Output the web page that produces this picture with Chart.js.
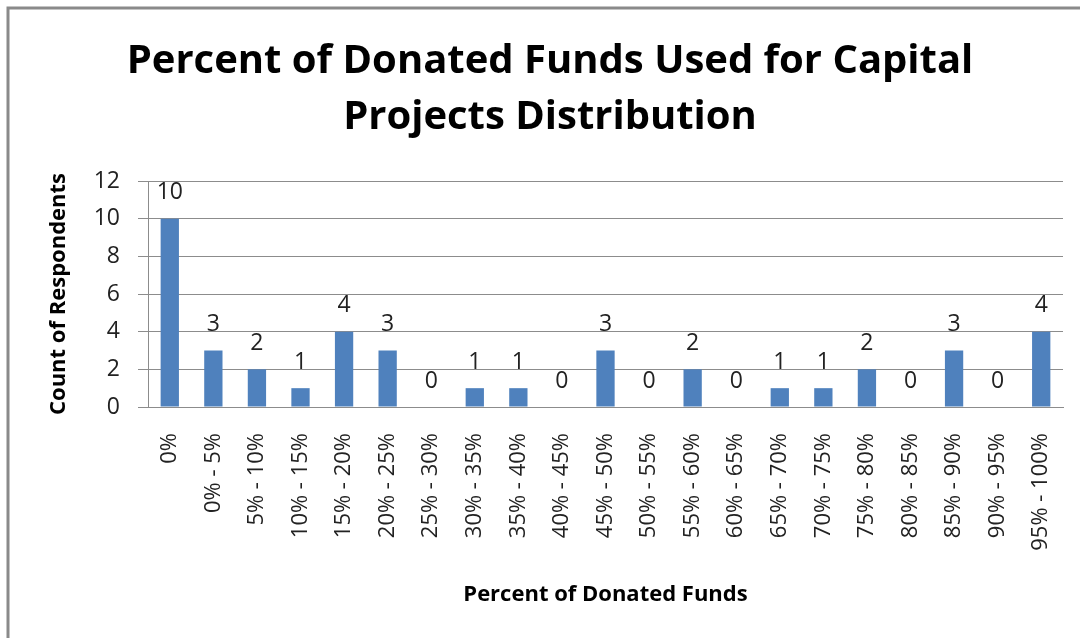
<!DOCTYPE html>
<html>
<head>
<meta charset="utf-8">
<script src="https://cdn.jsdelivr.net/npm/chart.js@4.4.1/dist/chart.umd.min.js"></script>
<style>
  html, body { margin: 0; padding: 0; background: #fff; }
  #wrap { width: 1080px; height: 638px; position: relative; }
</style>
</head>
<body>
<div id="wrap"><canvas id="dist"></canvas></div>
<script>
// percent ranges and respondent counts
const ranges = ["0%", "0% - 5%", "5% - 10%", "10% - 15%", "15% - 20%", "20% - 25%", "25% - 30%",
    "30% - 35%", "35% - 40%", "40% - 45%", "45% - 50%", "50% - 55%", "55% - 60%", "60% - 65%",
    "65% - 70%", "70% - 75%", "75% - 80%", "80% - 85%", "85% - 90%", "90% - 95%", "95% - 100%"];
const counts = [10, 3, 2, 1, 4, 3, 0, 1, 1, 0, 3, 0, 2, 0, 1, 1, 2, 0, 3, 0, 4];
const yTicks = [0, 2, 4, 6, 8, 10, 12];

const chartTitle = ["Percent of Donated Funds Used for Capital", "Projects Distribution"];
const xTitle = "Percent of Donated Funds";
const yTitle = "Count of Respondents";

const FONT = "'Open Sans', 'DejaVu Sans', sans-serif";

// outer frame like the spreadsheet chart border
const framePlugin = {
    id: "frame",
    beforeDraw(chart) {
        const ctx = chart.ctx;
        ctx.save();
        ctx.fillStyle = "#fff";
        ctx.fillRect(0, 0, chart.width, chart.height);
        ctx.strokeStyle = "#8a8a8a";
        ctx.lineWidth = 3;
        ctx.strokeRect(8, 8, chart.width + 20, chart.height + 20);
        ctx.restore();
    }
};

// value labels above each bar
const valueLabels = {
    id: "valueLabels",
    afterDatasetsDraw(chart) {
        const ctx = chart.ctx;
        const meta = chart.getDatasetMeta(0);
        ctx.save();
        ctx.font = "23px " + FONT;
        ctx.fillStyle = "#222";
        ctx.textAlign = "center";
        ctx.textBaseline = "middle";
        meta.data.forEach((bar, i) => {
            ctx.fillText(String(counts[i]), bar.x, bar.y - 26);
        });
        ctx.restore();
    }
};

const ctx = document.getElementById("dist").getContext("2d");
new Chart(ctx, {
    type: "bar",
    data: {
        labels: ranges,
        datasets: [
            {
                label: "Count",
                data: counts,
                backgroundColor: "#4f81bd",
                borderWidth: 0,
                barPercentage: 0.42,
                categoryPercentage: 1,
            },
        ],
    },
    options: {
        responsive: true,
        maintainAspectRatio: false,
        animation: false,
        layout: {
            padding: { left: 37, right: 17, top: 8, bottom: 26 },
        },
        plugins: {
            legend: { display: false },
            tooltip: { enabled: false },
            title: {
                display: true,
                text: chartTitle,
                color: "#000",
                font: { family: FONT, size: 40, weight: "bold", lineHeight: 1.4 },
                padding: { top: 26, bottom: 35 },
            },
        },
        scales: {
            x: {
                grid: { display: false, drawTicks: false },
                border: { display: true, color: "#8c8c8c", width: 1 },
                ticks: {
                    minRotation: 90,
                    maxRotation: 90,
                    autoSkip: false,
                    padding: 26,
                    color: "#222",
                    font: { family: FONT, size: 22 },
                },
                title: {
                    display: true,
                    text: xTitle,
                    color: "#000",
                    font: { family: FONT, size: 22, weight: "bold", lineHeight: 1.2 },
                    padding: { top: 0, bottom: 4 },
                },
                afterFit(scale) {
                    scale.height = 205;
                    scale.paddingLeft = 0;
                    scale.paddingRight = 0;
                },
            },
            y: {
                min: 0,
                max: 12,
                afterBuildTicks(scale) {
                    scale.ticks = yTicks.map(v => ({ value: v }));
                },
                grid: {
                    color: "#8c8c8c",
                    lineWidth: 1,
                    tickLength: 10,
                },
                border: { display: true, color: "#8c8c8c", width: 1 },
                ticks: {
                    padding: 18,
                    color: "#222",
                    font: { family: FONT, size: 23 },
                },
                title: {
                    display: true,
                    text: yTitle,
                    color: "#000",
                    font: { family: FONT, size: 22, weight: "bold", lineHeight: 1.2 },
                    padding: { top: 9, bottom: 0 },
                },
                afterFit(scale) {
                    scale.width = 111;
                },
            },
        },
    },
    plugins: [framePlugin, valueLabels],
});
</script>
</body>
</html>
